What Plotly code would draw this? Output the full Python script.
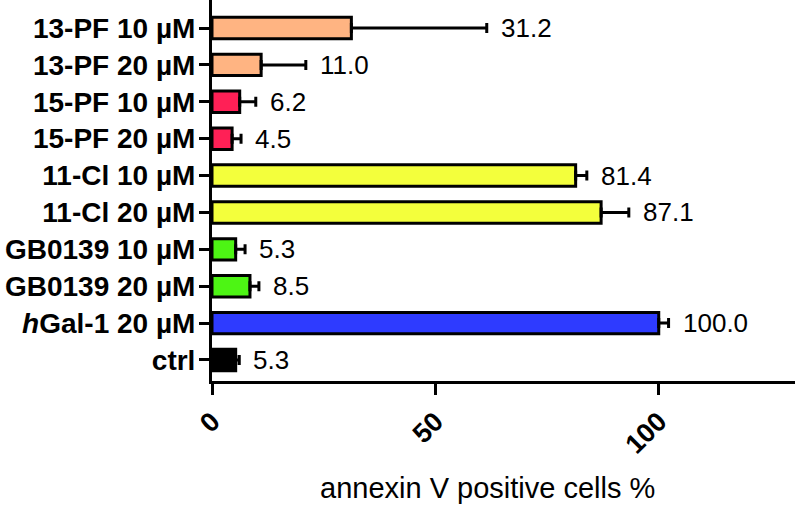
import plotly.graph_objects as go

categories = ["13-PF 10 µM", "13-PF 20 µM", "15-PF 10 µM", "15-PF 20 µM",
              "11-Cl 10 µM", "11-Cl 20 µM", "GB0139 10 µM", "GB0139 20 µM",
              "<i>h</i>Gal-1 20 µM", "ctrl"]
means = [31.2, 11.0, 6.2, 4.5, 81.4, 87.1, 5.3, 8.5, 100.0, 5.3]
errors = [30.3, 10.0, 3.6, 2.0, 2.5, 6.2, 2.1, 2.0, 2.2, 0.8]
labels = ["31.2", "11.0", "6.2", "4.5", "81.4", "87.1", "5.3", "8.5", "100.0", "5.3"]
colors = ["#FFB482", "#FFB482", "#FF2056", "#FF2056", "#F3FF3C", "#F3FF3C",
          "#4DF514", "#4DF514", "#2E3BFF", "#000000"]
xticks = [0, 50, 100]

FONT = "Liberation Sans, Arial, sans-serif"

fig = go.Figure()
fig.add_trace(go.Bar(
    y=categories, x=means, orientation="h",
    marker=dict(color=colors, line=dict(color="black", width=3)),
    width=0.58,
    error_x=dict(type="data", array=errors, arrayminus=[0] * len(errors),
                 symmetric=False, color="black", thickness=3, width=5),
    hoverinfo="skip",
))

for c, m, e, t in zip(categories, means, errors, labels):
    fig.add_annotation(x=m + e, y=c, text=t, showarrow=False,
                       xanchor="left", yanchor="middle", xshift=12,
                       font=dict(family=FONT, size=26, color="black"))

fig.add_annotation(x=(487 - 212) / 583, y=0, xref="paper", yref="paper",
                   yshift=-124, text="annexin V positive cells %", showarrow=False,
                   xanchor="center", yanchor="bottom", borderpad=0,
                   font=dict(family=FONT, size=29, color="black"))

fig.update_layout(
    width=795, height=506,
    margin=dict(l=212, r=0, t=0, b=125),
    paper_bgcolor="white", plot_bgcolor="white",
    showlegend=False,
)
fig.update_xaxes(
    range=[0, 130.5], tickvals=xticks, ticktext=[str(v) for v in xticks],
    tickangle=-45, ticks="outside", ticklen=11, tickwidth=3, tickcolor="black",
    showline=True, linewidth=3, linecolor="black", showgrid=False, zeroline=False,
    tickfont=dict(family=FONT, size=27, color="black", weight="bold"),
    automargin=False,
)
fig.update_yaxes(
    categoryorder="array", categoryarray=categories[::-1],
    range=[-0.57, 9.76],
    ticks="outside", ticklen=10, tickwidth=3, tickcolor="black",
    showline=True, linewidth=3, linecolor="black", showgrid=False, zeroline=False,
    tickfont=dict(family=FONT, size=28, color="black", weight="bold"),
    ticklabelstandoff=-2,
    automargin=False,
)

fig.write_html("out.html")
